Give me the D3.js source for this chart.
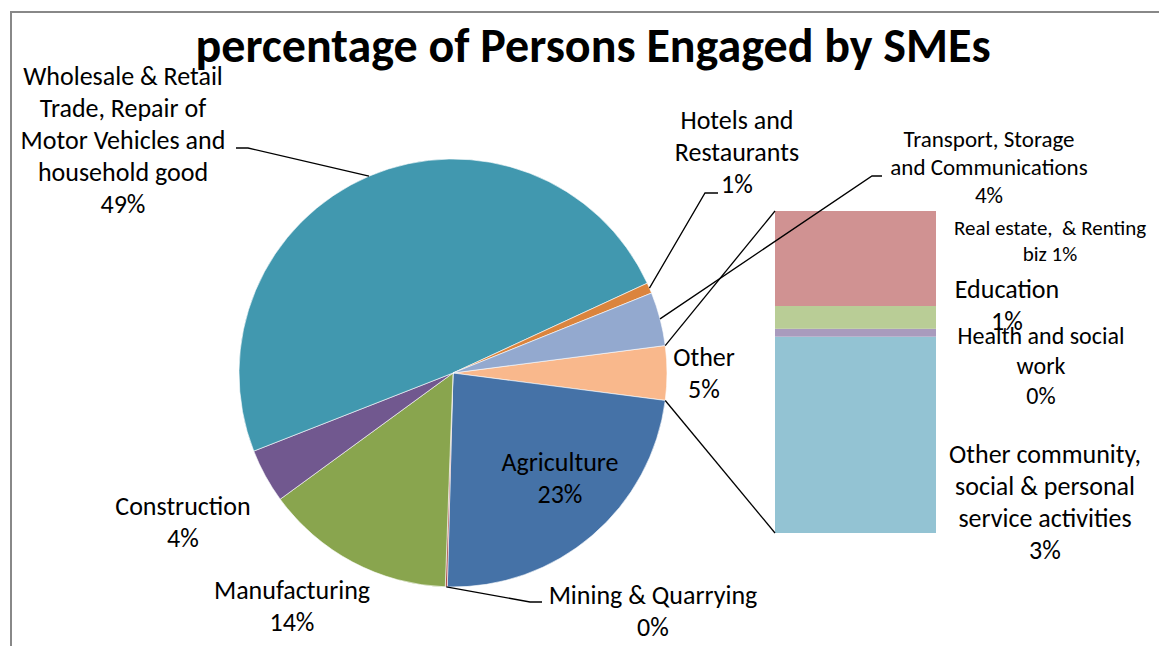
<html>
    <head>
        <style>
            body { margin: 0; background: #fff; }
            text { font-family: Calibri, Carlito, Lato, sans-serif; fill: #000; }
        </style>
    </head>
    <body>
        <script src="https://d3js.org/d3.v7.min.js"></script>

        <!-- Create a div where the graph will take place -->
        <div id="my_dataviz"></div>

        <script>
            // pie slices, clockwise from the "Other" slice at 3 o'clock
            var pieCategories = ["Other", "Agriculture", "Mining & Quarrying", "Manufacturing", "Construction",
                                 "Wholesale & Retail Trade, Repair of Motor Vehicles and household good",
                                 "Hotels and Restaurants", "Transport, Storage and Communications"];
            var pieValues = [4.1, 23.4, 0.15, 14.4, 4.1, 49.1, 0.8, 4.05];
            var pieLabels = ["5%", "23%", "0%", "14%", "4%", "49%", "1%", "4%"];
            var pieColors = ["#F9B88C", "#4572A7", "#AA4643", "#89A54E", "#71588F", "#4198AF", "#DB843D", "#93A9CF"];

            // the stacked bar that splits "Other", bottom to top
            var barCategories = ["Other community, social & personal service activities", "Health and social work",
                                 "Education", "Real estate,  & Renting biz"];
            var barValues = [2.5, 0.1, 0.29, 1.21];
            var barLabels = ["3%", "0%", "1%", "1%"];
            var barColors = ["#93C3D3", "#A99BBD", "#B9CD96", "#D09292"];

            var width = 1159, height = 646;
            var cx = 453, cy = 373, radius = 214;

            var svg = d3.select("#my_dataviz")
              .append("svg")
                .attr("width", width)
                .attr("height", height);

            // chart frame (only top and left edges visible)
            svg.append("path")
                .attr("d", "M11,646 V12 H1159")
                .attr("fill", "none")
                .attr("stroke", "#888")
                .attr("stroke-width", 2);

            svg.append("text")
                .attr("x", 593)
                .attr("y", 62)
                .attr("text-anchor", "middle")
                .style("font-size", "48px")
                .style("font-weight", "bold")
                .text("percentage of Persons Engaged by SMEs");

            // pie
            var otherAngle = pieValues[0] / d3.sum(pieValues) * 2 * Math.PI;
            var start = Math.PI / 2 - otherAngle / 2;
            var pie = d3.pie().sort(null).startAngle(start).endAngle(start + 2 * Math.PI);
            var arcs = pie(pieValues);
            var arc = d3.arc().innerRadius(0).outerRadius(radius);
            var edge = d3.arc().innerRadius(radius).outerRadius(radius);

            var g = svg.append("g").attr("transform", "translate(" + cx + "," + cy + ")");
            g.selectAll("path")
              .data(arcs)
              .enter()
              .append("path")
                .attr("d", arc)
                .attr("fill", function(d, i) { return pieColors[i]; })
                .attr("stroke", "#fff")
                .attr("stroke-width", 0.6);

            // stacked bar
            var barX = 775, barW = 161;
            var y = d3.scaleLinear()
              .domain([0, d3.sum(barValues)])
              .range([533, 211]);
            var cum = 0;
            var stacks = barValues.map(function(v) { var s = {y0: cum, y1: cum + v}; cum += v; return s; });
            svg.selectAll("rect.bar")
              .data(stacks)
              .enter()
              .append("rect")
                .attr("class", "bar")
                .attr("x", barX)
                .attr("width", barW)
                .attr("y", function(d) { return y(d.y1); })
                .attr("height", function(d) { return y(d.y0) - y(d.y1); })
                .attr("fill", function(d, i) { return barColors[i]; });

            // lines from the "Other" slice to the bar
            function polar(a) { return [cx + radius * Math.sin(a), cy - radius * Math.cos(a)]; }
            var pTop = polar(arcs[0].startAngle), pBot = polar(arcs[0].endAngle);
            svg.append("line").attr("x1", pTop[0]).attr("y1", pTop[1]).attr("x2", barX).attr("y2", y(d3.sum(barValues)))
                .attr("stroke", "#000").attr("stroke-width", 1.3);
            svg.append("line").attr("x1", pBot[0]).attr("y1", pBot[1]).attr("x2", barX).attr("y2", y(0))
                .attr("stroke", "#000").attr("stroke-width", 1.3);

            // labels: text lines, centre x, first line y, line step, font size
            var labelLayout = [
              {i: 0, lines: ["Other"], x: 704, y: 366, step: 32, size: 26},
              {i: 1, lines: ["Agriculture"], x: 560, y: 471, step: 32, size: 26},
              {i: 2, lines: ["Mining & Quarrying"], x: 653, y: 604, step: 32, size: 26},
              {i: 3, lines: ["Manufacturing"], x: 292, y: 599, step: 32, size: 26},
              {i: 4, lines: ["Construction"], x: 183, y: 515, step: 32, size: 26},
              {i: 5, lines: ["Wholesale & Retail", "Trade, Repair of", "Motor Vehicles and", "household good"], x: 123, y: 85, step: 32, size: 26},
              {i: 6, lines: ["Hotels and", "Restaurants"], x: 737, y: 129, step: 32, size: 26},
              {i: 7, lines: ["Transport, Storage", "and Communications"], x: 989, y: 147, step: 28, size: 23}
            ];
            labelLayout.forEach(function(l) {
              var t = svg.append("text")
                  .attr("text-anchor", "middle")
                  .style("font-size", l.size + "px");
              l.lines.concat([pieLabels[l.i]]).forEach(function(s, k) {
                t.append("tspan").attr("x", l.x).attr("y", l.y + k * l.step).text(s);
              });
            });

            var barLayout = [
              {lines: ["Other community,", "social & personal", "service activities"], x: 1045, y: 463, step: 32, size: 26},
              {lines: ["Health and social", "work"], x: 1041, y: 344, step: 30, size: 24},
              {lines: ["Education"], x: 1007, y: 298, step: 32, size: 26},
              {lines: ["Real estate,  & Renting", "biz " + barLabels[3]], x: 1050, y: 235, step: 26, size: 21, joined: true}
            ];
            barLayout.forEach(function(l, i) {
              var t = svg.append("text")
                  .attr("text-anchor", "middle")
                  .style("font-size", l.size + "px")
                  .style("white-space", "pre");
              var lines = l.joined ? l.lines : l.lines.concat([barLabels[i]]);
              lines.forEach(function(s, k) {
                t.append("tspan").attr("x", l.x).attr("y", l.y + k * l.step).text(s);
              });
            });

            // leader lines: label end -> slice edge at mid angle
            var leaders = [
              {i: 5, pts: [[236, 148], [248, 148]]},
              {i: 6, pts: [[718, 193], [705, 193]]},
              {i: 7, pts: [[882, 176], [872, 176]]},
              {i: 2, pts: [[542, 602], [530, 602]]}
            ];
            leaders.forEach(function(l) {
              var c = edge.centroid(arcs[l.i]);
              var pts = l.pts.concat([[cx + c[0], cy + c[1]]]);
              svg.append("path")
                  .attr("d", d3.line()(pts))
                  .attr("fill", "none")
                  .attr("stroke", "#000")
                  .attr("stroke-width", 1.3);
            });
        </script>
    </body>
</html>
